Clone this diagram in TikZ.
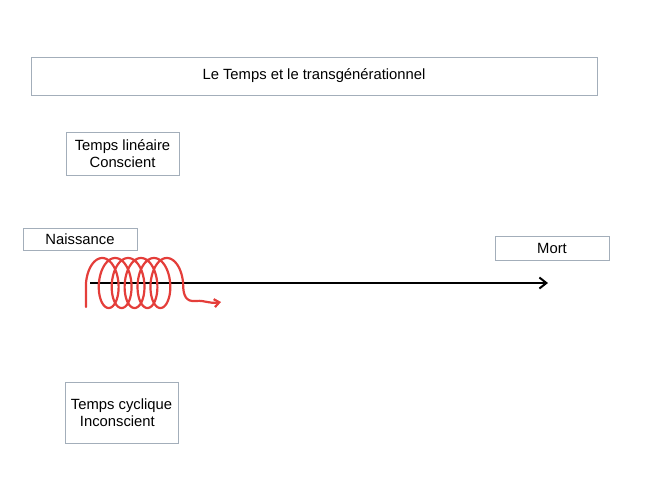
\documentclass[tikz,border=0pt]{standalone}
\usepackage{fontspec}
\setmainfont{Liberation Sans}
\usepackage{tikz}
\usetikzlibrary{arrows.meta}

\definecolor{cadre}{RGB}{163,174,186}
\definecolor{rouge}{RGB}{228,62,58}

\tikzset{
  boite/.style={draw=cadre, line width=0.9pt, inner sep=0pt, align=center,
    font=\fontsize{14.8}{17}\selectfont},
  spirale/.style={draw=rouge, line width=2.2pt, line cap=round, line join=round}
}

\begin{document}
\begin{tikzpicture}[x=1pt, y=-1pt]
            \useasboundingbox (0,0) rectangle (661,496);

            % Cadres
            \node[boite, minimum width=566pt, minimum height=38pt] (titre) at (314,76) {Le Temps et le transgénérationnel};
            \node[boite, minimum width=113pt, minimum height=43pt] (lineaire) at (122.5,153.5) {Temps linéaire\\Conscient};
            \node[boite, minimum width=114pt, minimum height=22pt] (naissance) at (80,239) {Naissance};
            \node[boite, minimum width=114pt, minimum height=24pt] (mort) at (552,248) {Mort};
            \node[boite, align=left, minimum width=113pt, minimum height=61pt] (cyclique) at (121.5,412.5) {Temps cyclique\\\hspace*{9pt}Inconscient};

            % Ligne du temps
            \coordinate (debut) at (90,283);
            \coordinate (fin) at (548,283);
            \draw[black, line width=2pt, -{Straight Barb[length=7pt, width=11pt]}] (debut) -- (fin);

            % Spirale rouge
            \draw[spirale, -{Straight Barb[length=5pt, width=8pt]}] (86,307) -- (86,283)
              -- plot[domain=0:1980, samples=400, variable=\t] ({99 + 0.0359*\t - 13*cos(\t)}, {283 - 25*sin(\t)})
              .. controls (183,296) and (186,302) .. (196,301)
              .. controls (205,300) and (209,304) .. (221,302);
        \end{tikzpicture}
\end{document}
